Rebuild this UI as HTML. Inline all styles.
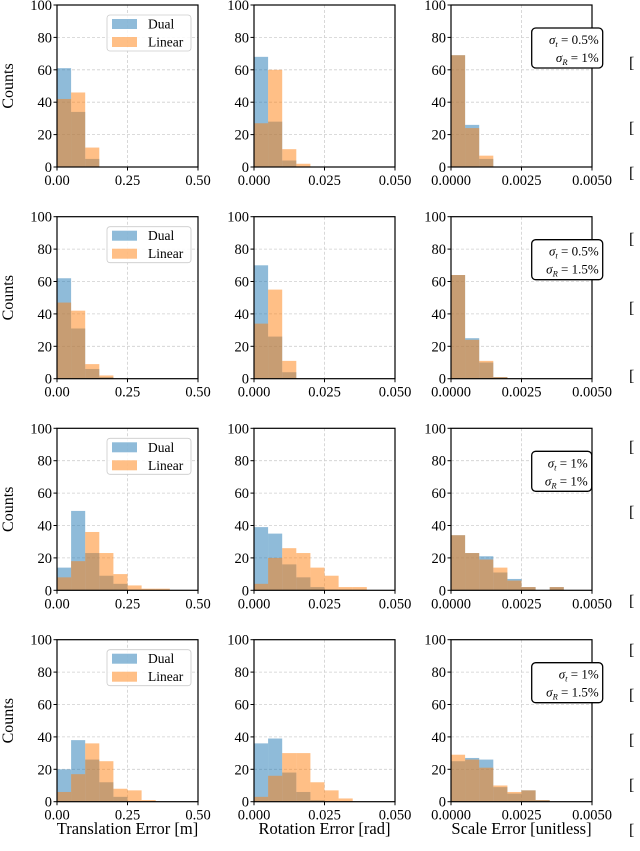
<!DOCTYPE html>
<html><head><meta charset="utf-8"><style>
html,body{margin:0;padding:0;background:#fff;}
svg{display:block;font-family:"Liberation Serif","DejaVu Serif",serif;}
</style></head><body>
<svg id="fig" width="640" height="851" viewBox="0 0 640 851" xmlns="http://www.w3.org/2000/svg"></svg>
<script>
// ---- data ----
const rowNames = ["t05-r1", "t05-r15", "t1-r1", "t1-r15"];
const annotT = ["0.5%", "0.5%", "1%", "1%"];
const annotR = ["1%", "1.5%", "1%", "1.5%"];
const colMax = [0.5, 0.05, 0.005];
const binWidth = [0.05, 0.005, 0.0005];
const xTickLabels = [["0.00","0.25","0.50"],["0.000","0.025","0.050"],["0.0000","0.0025","0.0050"]];
const xTitles = ["Translation Error [m]", "Rotation Error [rad]", "Scale Error [unitless]"];
const yTicks = [0,20,40,60,80,100];
const dualTrans = [[61,34,5],[62,31,6,1],[14,49,23,9,4],[20,38,26,12,3]];
const linTrans  = [[42,46,12],[47,42,9,2],[8,18,36,23,10,3,1,1],[6,17,36,25,8,7,1]];
const dualRot = [[68,28,4],[70,26,4],[39,35,16,8,2],[36,39,18,6,1]];
const linRot  = [[27,60,11,2],[34,55,11],[4,20,26,23,14,9,2,2],[3,16,30,30,12,7,2]];
const dualScale = [[69,26,5],[64,25,10,1],[34,23,21,11,7,2,0,2],[25,27,26,9,5,7,1]];
const linScale  = [[69,24,7],[64,24,11,1],[34,23,19,14,6,2,0,2],[29,26,21,10,6,7,1]];
const dual = [dualTrans, dualRot, dualScale];
const lin = [linTrans, linRot, linScale];

// ---- layout ----
const colLeft = [57, 254, 451], axW = 141;
const rowTop = [5, 216.7, 428.3, 639.7], axH = 162;
const NS = "http://www.w3.org/2000/svg";
const svg = document.getElementById("fig");
function el(tag, attrs, parent, text){
  const e = document.createElementNS(NS, tag);
  for (const k in attrs) e.setAttribute(k, attrs[k]);
  if (text !== undefined) e.textContent = text;
  (parent || svg).appendChild(e);
  return e;
}
for (let r = 0; r < 4; r++) {
  for (let c = 0; c < 3; c++) {
    const x0 = colLeft[c], y0 = rowTop[r];
    const g = el("g", {});
    
    
    const sx = v => x0 + v / colMax[c] * axW;
    const sy = v => y0 + axH - v / 100 * axH;
    for (const t of yTicks) {
      if (t === 0 || t === 100) continue;
      el("line", {x1:x0, x2:x0+axW, y1:sy(t), y2:sy(t), stroke:"#cfcfcf", "stroke-width":0.8, "stroke-dasharray":"3,2"}, g);
    }
    el("line", {x1:sx(colMax[c]/2), x2:sx(colMax[c]/2), y1:y0, y2:y0+axH, stroke:"#cfcfcf", "stroke-width":0.8, "stroke-dasharray":"3,2"}, g);
    const series = [[dual[c][r], "#1f77b4", "dual"], [lin[c][r], "#ff7f0e", "linear"]];
    for (const [vals, col, nm] of series) {
      vals.forEach((v, i) => {
        if (!v) return;
        const b = el("rect", {x:sx(i*binWidth[c]), y:sy(v), width:sx((i+1)*binWidth[c])-sx(i*binWidth[c]), height:sy(0)-sy(v), fill:col, "fill-opacity":0.5}, g);
        
        
      });
    }
    el("rect", {x:x0, y:y0, width:axW, height:axH, fill:"none", stroke:"#000", "stroke-width":1.2}, g);
    for (const t of yTicks) {
      el("line", {x1:x0-3.5, x2:x0, y1:sy(t), y2:sy(t), stroke:"#000", "stroke-width":1}, g);
      const tl = el("text", {x:x0-5, y:sy(t)+5, "text-anchor":"end", "font-size":14.5}, g, String(t));
      
      
    }
    xTickLabels[c].forEach((lab, i) => {
      const xv = sx(i * colMax[c] / 2);
      el("line", {x1:xv, x2:xv, y1:y0+axH, y2:y0+axH+3.5, stroke:"#000", "stroke-width":1}, g);
      const tl = el("text", {x:xv, y:y0+axH+18, "text-anchor":"middle", "font-size":14.5}, g, lab);
      
      
    });
    if (c === 0) {
      const yl = el("text", {x:0, y:0, transform:`translate(${x0-44},${y0+axH/2}) rotate(-90)`, "text-anchor":"middle", "font-size":16}, g, "Counts");
      
      
      const lg = el("g", {}, g);
      
      
      el("rect", {x:107, y:y0+10, width:84, height:36, rx:3, fill:"#fff", "fill-opacity":0.85, stroke:"#ccc", "stroke-width":0.8}, lg);
      el("rect", {x:112, y:y0+14, width:25, height:10, fill:"#1f77b4", "fill-opacity":0.5}, lg);
      el("text", {x:148, y:y0+23.5, "font-size":13.5}, lg, "Dual");
      el("rect", {x:112, y:y0+32, width:25, height:10, fill:"#ff7f0e", "fill-opacity":0.5}, lg);
      el("text", {x:148, y:y0+41.5, "font-size":13.5}, lg, "Linear");
    }
    if (c === 2) {
      const bw = (r === 2) ? 60 : 71;
      const an = el("g", {}, g);
      
      
      el("rect", {x:531.7, y:y0+23, width:bw, height:40, rx:4, fill:"#fff", stroke:"#000", "stroke-width":1.3}, an);
      const t1 = el("text", {x:531.7+bw-4, y:y0+39, "text-anchor":"end", "font-size":13}, an);
      el("tspan", {"font-style":"italic"}, t1, "σ");
      el("tspan", {"font-style":"italic", "font-size":8.5, dy:3}, t1, "t");
      el("tspan", {dy:-3}, t1, " = " + annotT[r]);
      const t2 = el("text", {x:531.7+bw-4, y:y0+57, "text-anchor":"end", "font-size":13}, an);
      el("tspan", {"font-style":"italic"}, t2, "σ");
      el("tspan", {"font-style":"italic", "font-size":8.5, dy:3}, t2, "R");
      el("tspan", {dy:-3}, t2, " = " + annotR[r]);
    }
  }
}
xTitles.forEach((t, c) => {
  const xt = el("text", {x:colLeft[c]+axW/2, y:834, "text-anchor":"middle", "font-size":16.5}, svg, t);
  
  
});
[68,133,178,244,313,381,452,517,606,655,700,745,790,835].forEach(y => {
  const b = el("text", {x:629, y:y, "font-size":16}, svg, "[");
  
  
});
</script>
</body></html>
